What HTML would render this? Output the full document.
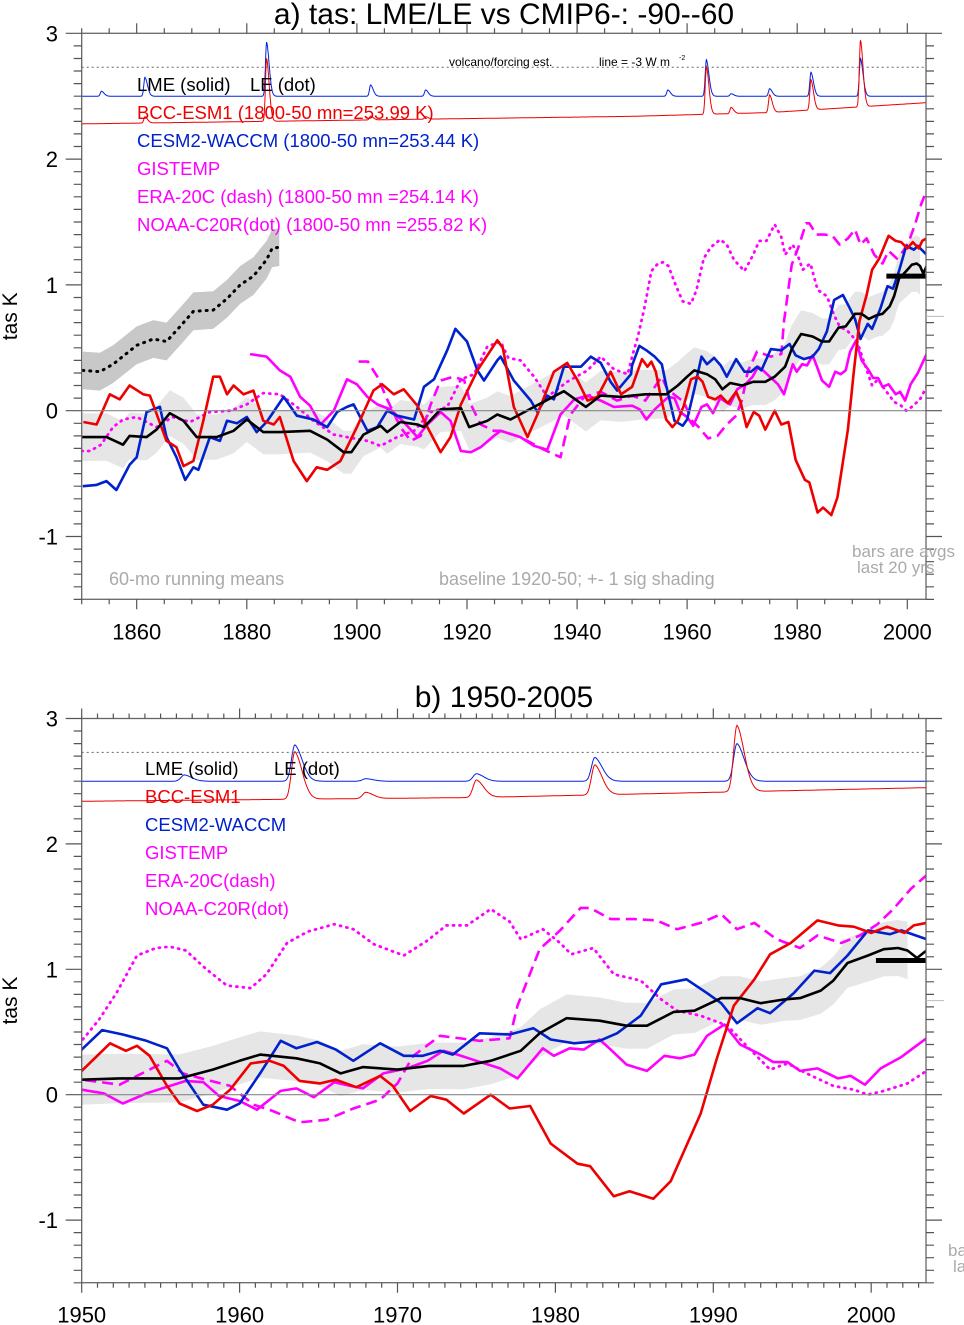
<!DOCTYPE html>
<html><head><meta charset="utf-8">
<style>
html,body{margin:0;padding:0;background:#fff;}
svg{display:block;font-family:"Liberation Sans",Arial,sans-serif;}
text{white-space:pre;}
</style></head>
<body>
<svg id="chart" width="964" height="1325" viewBox="0 0 964 1325" xmlns="http://www.w3.org/2000/svg">
<defs>
<clipPath id="clipA"><rect x="81.7" y="33.3" width="844.3" height="566"/></clipPath>
<clipPath id="clipB"><rect x="81.7" y="718.5" width="844.3" height="564.2"/></clipPath>
</defs>
<text x="504" y="24" font-size="30" text-anchor="middle">a) tas: LME/LE vs CMIP6-: -90--60</text>
<text x="504" y="707" font-size="30" text-anchor="middle">b) 1950-2005</text>
<g id="panelA"></g>
<g id="panelB"></g>
</svg>
<script>
// ---- data (year, value K) ----
const lmeMean = [[1850,-0.21],[1854.5,-0.21],[1857.5,-0.27],[1858.7,-0.2],[1861.8,-0.21],[1863.6,-0.15],[1866,-0.02],[1868.5,-0.08],[1870.9,-0.21],[1874.5,-0.21],[1877.6,-0.16],[1880,-0.07],[1883,-0.17],[1886,-0.17],[1891.5,-0.16],[1894.6,-0.23],[1897.6,-0.33],[1899,-0.33],[1901.2,-0.19],[1904.3,-0.12],[1905.5,-0.17],[1907.9,-0.09],[1911,-0.11],[1912.2,-0.13],[1915.2,0.01],[1918.9,0.02],[1920.4,-0.13],[1923.7,-0.08],[1925.5,-0.03],[1927.9,-0.07],[1932.2,0.03],[1937.6,0.155],[1941.6,0.03],[1944.3,0.12],[1948,0.11],[1950,0.12],[1952.4,0.13],[1956.2,0.13],[1958.3,0.2],[1960,0.27],[1961.3,0.32],[1963.6,0.29],[1965.1,0.25],[1966.4,0.17],[1967.8,0.22],[1970,0.2],[1972,0.23],[1974.2,0.23],[1975.9,0.27],[1977.8,0.35],[1979,0.49],[1980.7,0.61],[1982.8,0.59],[1984.5,0.55],[1985.8,0.55],[1987.5,0.66],[1988.8,0.67],[1990.5,0.77],[1991.7,0.77],[1993,0.73],[1994.5,0.76],[1995.5,0.77],[1996.8,0.83],[1997.6,0.91],[1998.5,1.05],[1999.8,1.11],[2000.8,1.16],[2001.7,1.17],[2002.3,1.15],[2002.9,1.09],[2003.5,1.15]];
const lmeSpread = [[1850,0.19],[1900,0.17],[1950,0.2],[1965,0.18],[1980,0.19],[1995,0.17],[2002.5,0.23]];
const leMean = [[1850.2,0.32],[1853.3,0.31],[1855.7,0.37],[1860,0.52],[1863,0.57],[1865.4,0.55],[1867.9,0.67],[1870.3,0.79],[1873.9,0.8],[1876.4,0.89],[1878.8,1.0],[1881.2,1.07],[1883.6,1.2],[1884.6,1.29],[1885.9,1.3]];
const leSpread = [[1850,0.15],[1886,0.15]];
const bccSeries = [[1850.3,-0.09],[1852.7,-0.11],[1855.1,0.13],[1856.9,0.09],[1858.7,0.2],[1861.2,0.13],[1862.4,0.12],[1865.4,-0.24],[1867.2,-0.29],[1868.5,-0.44],[1870.3,-0.4],[1872.1,-0.08],[1873.9,0.27],[1875.1,0.27],[1876.4,0.13],[1877.6,0.2],[1879.4,0.13],[1881.2,0.16],[1883,-0.08],[1884.9,-0.11],[1886,-0.05],[1888.5,-0.4],[1890.9,-0.56],[1892.7,-0.45],[1894.6,-0.47],[1897,-0.4],[1900,-0.13],[1903,0.16],[1904.6,0.21],[1906.7,0.13],[1908.5,0.17],[1911,0.04],[1912.8,-0.13],[1915.2,-0.33],[1917,-0.21],[1918.9,0.05],[1921.9,0.32],[1925.5,0.56],[1926.5,0.5],[1928.5,0.03],[1931,-0.21],[1932.8,-0.03],[1935.8,0.31],[1938.2,0.38],[1940.1,0.24],[1941.9,0.08],[1943.7,0.11],[1946.1,0.31],[1948,0.13],[1950,0.19],[1951.8,0.41],[1952.8,0.35],[1953.5,0.39],[1954.3,0.31],[1955.4,0.07],[1956.2,-0.07],[1957.3,-0.13],[1958.3,-0.08],[1959.4,0.04],[1960.7,0.25],[1961.9,0.27],[1962.8,0.23],[1963.8,0.11],[1965.1,0.09],[1966.1,0.12],[1967.4,0.06],[1968.9,0.15],[1969.7,0.07],[1970.8,-0.13],[1972.1,-0.01],[1973.1,-0.04],[1974.2,-0.15],[1975.9,0],[1977.1,-0.11],[1978.4,-0.09],[1979.7,-0.39],[1981.4,-0.55],[1982.2,-0.57],[1983.7,-0.81],[1984.7,-0.77],[1986.2,-0.83],[1987.3,-0.69],[1989.2,-0.15],[1990.2,0.28],[1991.3,0.71],[1992.6,0.92],[1993.6,1.12],[1994.9,1.21],[1996.6,1.39],[1997.9,1.35],[1998.9,1.34],[2000,1.29],[2001,1.34],[2002.1,1.29],[2002.7,1.35],[2003.5,1.37]];
const cesmSeries = [[1850.2,-0.6],[1852.7,-0.59],[1854.5,-0.56],[1856.3,-0.63],[1858.7,-0.43],[1860,-0.37],[1861.8,-0.01],[1864.2,0.03],[1865.4,-0.21],[1867.2,-0.37],[1868.8,-0.55],[1870.3,-0.45],[1871.2,-0.47],[1873.3,-0.21],[1875.1,-0.24],[1876.4,-0.08],[1878.2,-0.1],[1880,-0.05],[1881.8,-0.17],[1883.6,-0.09],[1886.7,0.11],[1889.1,-0.04],[1892.1,-0.07],[1894.6,-0.13],[1896.4,-0.01],[1898.2,0.03],[1899.4,0.05],[1901.9,-0.16],[1903.7,-0.13],[1905.5,0],[1907.3,-0.04],[1910.4,-0.07],[1912.2,0.19],[1914,0.25],[1916.4,0.48],[1917.9,0.65],[1920,0.55],[1921.9,0.32],[1923.1,0.24],[1925.5,0.4],[1926.1,0.43],[1928.5,0.24],[1931.6,0.08],[1932.8,-0.01],[1934.6,0.12],[1935.8,0.09],[1937.6,0.35],[1940.7,0.35],[1942.5,0.43],[1944.3,0.38],[1946.1,0.23],[1947.3,0.16],[1949.8,0.29],[1950,0.36],[1951.3,0.515],[1952.6,0.48],[1954.1,0.43],[1955.4,0.37],[1956.2,0.2],[1957.7,-0.08],[1959.2,-0.12],[1960,-0.07],[1961.3,0.17],[1962.6,0.43],[1963.6,0.37],[1964.9,0.42],[1966.1,0.36],[1967.2,0.27],[1968.9,0.41],[1970.4,0.31],[1971.6,0.31],[1972.7,0.35],[1973.5,0.32],[1975.2,0.49],[1977.1,0.48],[1978.6,0.53],[1979.7,0.44],[1981.2,0.41],[1982.8,0.43],[1983.9,0.49],[1985.4,0.63],[1986.7,0.88],[1988.3,0.92],[1989.6,0.81],[1990.5,0.73],[1991.5,0.57],[1992.8,0.69],[1993.6,0.65],[1995.1,0.81],[1996.4,0.99],[1997.4,0.97],[1998.5,1.11],[1999.8,1.31],[2001.2,1.28],[2001.9,1.31],[2003.5,1.24]];
const gistempSeries = [[1880.6,0.45],[1883.6,0.43],[1886,0.32],[1887.9,0.27],[1889.7,0.11],[1891.5,0.04],[1893.4,-0.11],[1895.8,0],[1898.2,0.25],[1900,0.21],[1901.9,0.11],[1903.7,0.05],[1906.1,0.01],[1908.5,-0.09],[1911,-0.21],[1912.8,-0.11],[1915.2,-0.01],[1917,-0.08],[1918.9,-0.32],[1920.7,-0.33],[1922.5,-0.29],[1924.9,-0.2],[1926.1,-0.16],[1929.7,-0.21],[1932.2,-0.28],[1934.6,-0.31],[1937,-0.03],[1939.5,0.09],[1941.9,0.12],[1944.3,0.08],[1946.7,0.03],[1950,0.04],[1951.4,0.01],[1952.6,-0.07],[1954.1,0.01],[1955.6,0.07],[1956.6,0.11],[1957.7,0.1],[1958.7,-0.01],[1960,-0.05],[1961.1,-0.12],[1962.6,0.03],[1963.6,0.05],[1964.7,-0.02],[1966,0.1],[1967,0.07],[1967.8,0.05],[1969.1,0.17],[1970.6,0.21],[1971.9,0.27],[1972.9,0.35],[1973.8,0.32],[1975,0.27],[1976.5,0.21],[1977.6,0.13],[1979.2,0.37],[1979.9,0.31],[1980.9,0.37],[1981.8,0.36],[1982.8,0.44],[1983.5,0.36],[1984.5,0.24],[1985.8,0.19],[1986.9,0.31],[1987.9,0.29],[1988.8,0.32],[1989.6,0.47],[1990.7,0.56],[1991.7,0.4],[1993,0.32],[1993.8,0.26],[1994.7,0.26],[1995.5,0.19],[1996.6,0.21],[1997.9,0.13],[1998.7,0.15],[1999.6,0.08],[2000.6,0.21],[2001.9,0.3],[2003.5,0.45]];
const era20cSeries = [[1900.3,0.39],[1902,0.39],[1903.7,0.27],[1905.5,0.09],[1907.9,-0.13],[1909.8,-0.24],[1911.6,-0.2],[1913.4,0.05],[1915.2,0.24],[1917.6,0.27],[1919.5,0.24],[1920.7,0.05],[1922.5,-0.11],[1924.9,-0.16],[1926.1,-0.16],[1929.7,-0.21],[1934,-0.31],[1937,-0.37],[1938.8,-0.03],[1941.3,0.11],[1944.3,0.15],[1947.3,0.08],[1950,0.12],[1952.4,0.08],[1955.4,0.27],[1956.4,0.17],[1957.9,0.12],[1959.4,0.07],[1960.9,-0.08],[1962.1,-0.13],[1963.8,-0.22],[1965.5,-0.2],[1967.2,-0.11],[1968.9,-0.04],[1970,0.09],[1971,0.31],[1972.7,0.47],[1975.2,0.43],[1977.1,0.45],[1977.6,0.71],[1979,1.16],[1980.3,1.31],[1981.6,1.49],[1982.2,1.49],[1983.5,1.4],[1985,1.4],[1986.4,1.39],[1987.7,1.32],[1989.2,1.37],[1990.5,1.44],[1991.5,1.32],[1992.6,1.37],[1994,1.24],[1995.5,1.17],[1996.6,1.27],[1998.1,1.21],[1999.3,1.27],[2000.4,1.36],[2001.4,1.48],[2002.5,1.64],[2003.5,1.75]];
const noaaSeries = [[1850,-0.32],[1851.5,-0.32],[1853.5,-0.27],[1855.7,-0.13],[1857.5,-0.07],[1860,-0.05],[1863.6,-0.13],[1866.5,-0.05],[1869.7,-0.09],[1873.3,-0.01],[1877,0],[1880,0.05],[1883,0.14],[1886,0.13],[1889.1,0.03],[1892.1,-0.08],[1895.8,-0.19],[1898.2,-0.21],[1901.9,-0.24],[1904.3,-0.28],[1907.3,-0.21],[1910.4,-0.16],[1913.4,-0.01],[1916.4,0.03],[1918.9,0.25],[1921.3,0.29],[1923.7,0.51],[1926.1,0.55],[1927.5,0.42],[1929.7,0.4],[1932.2,0.27],[1934.6,0.11],[1938.2,0.23],[1941.9,0.32],[1944.3,0.43],[1946.7,0.33],[1949.2,0.29],[1950,0.43],[1951.1,0.6],[1952.2,0.81],[1953.5,1.11],[1954.7,1.17],[1955.6,1.18],[1956.6,1.15],[1957.9,1.0],[1959.2,0.87],[1960.7,0.85],[1961.7,0.96],[1963,1.21],[1964.3,1.3],[1966,1.36],[1967.2,1.32],[1968.5,1.2],[1970.4,1.11],[1971.9,1.23],[1973.1,1.35],[1974.4,1.35],[1975.9,1.48],[1977.1,1.38],[1977.8,1.24],[1979.2,1.32],[1980.3,1.21],[1981,1.12],[1982.4,1.17],[1983.7,0.96],[1985.4,0.91],[1986.7,0.76],[1987.7,0.67],[1989.2,0.63],[1990.9,0.55],[1992.1,0.39],[1993.6,0.2],[1994.7,0.25],[1995.9,0.17],[1997.6,0.07],[1998.9,0.04],[1999.8,0],[2000.8,0.03],[2002.3,0.09],[2003.5,0.19]];
// volcanic forcing estimate traces
const volcanoYears = [1853.6, 1861.5, 1883.6, 1902.5, 1912.5, 1956.5, 1963.5, 1968, 1975, 1982.5, 1991.5];
const blueVolcPeaks = [0.04, 0.15, 0.43, 0.09, 0.05, 0.05, 0.29, 0.02, 0.06, 0.19, 0.3];
const redVolcPeaks  = [0.0, 0.05, 0.5, 0.03, 0.02, 0.0, 0.38, 0.05, 0.14, 0.24, 0.53];
const blueVolcBase = [[1850,2.5],[2004,2.5]];
const redVolcBase = [[1850,2.28],[1950,2.34],[1975,2.37],[2004,2.45]];
const last20Bar = [1984, 2003.5, 1.07];
const volcRefLine = 2.73;
const yTicks = [3,2,1,0,-1];
const yTickLabels = ["3","2","1","0","-1"];
const xTicksA = [1860,1880,1900,1920,1940,1960,1980,2000];
const xTicksB = [1950,1960,1970,1980,1990,2000];

const NS = "http://www.w3.org/2000/svg";
function mk(tag, attrs, parent){ const e=document.createElementNS(NS,tag); for(const k in attrs) e.setAttribute(k,attrs[k]); parent.appendChild(e); return e; }
function interp(arr, x){ if(x<=arr[0][0]) return arr[0][1]; for(let i=1;i<arr.length;i++){ if(x<=arr[i][0]){ const a=arr[i-1],b=arr[i]; return a[1]+(b[1]-a[1])*(x-a[0])/(b[0]-a[0]); } } return arr[arr.length-1][1]; }
function volcResp(dt){ if(dt<0) return Math.exp(-(dt/0.3)*(dt/0.3)); const d=dt/0.55; return Math.exp(-d*d*0.6 - dt*0.25); }

function drawPanel(g, P){
  const X = yr => P.x0 + (yr - P.y0yr) * P.sx;
  const Y = v => P.zeroY - v * P.sy;
  const clip = mk('g', {'clip-path':'url(#'+P.clip+')'}, g);
  const bandPts=[], bandLo=[];
  lmeMean.filter(p=>p[0]<=2002.5).forEach(p=>{ const s=interp(lmeSpread,p[0]); bandPts.push(X(p[0]).toFixed(1)+','+Y(p[1]+s).toFixed(1)); bandLo.unshift(X(p[0]).toFixed(1)+','+Y(p[1]-s).toFixed(1)); });
  const band = mk('polygon',{points:bandPts.concat(bandLo).join(' '),fill:'#e6e6e6',stroke:'none'},clip);
  
  
  if(P.showLE){
    const up=[],lo=[];
    leMean.forEach(p=>{ const s=interp(leSpread,p[0]); up.push(X(p[0]).toFixed(1)+','+Y(p[1]+s).toFixed(1)); lo.unshift(X(p[0]).toFixed(1)+','+Y(p[1]-s).toFixed(1)); });
    const leb = mk('polygon',{points:up.concat(lo).join(' '),fill:'#c8c8c8',stroke:'none'},clip);
    
    
  }
  const zl = mk('line',{x1:P.x0,x2:P.x1,y1:Y(0),y2:Y(0),stroke:'#888','stroke-width':1.2},g);
  
  
  const rl = mk('line',{x1:P.x0,x2:P.x1,y1:Y(volcRefLine),y2:Y(volcRefLine),stroke:'#666','stroke-width':1,'stroke-dasharray':'2,3'},g);
  
  
  [['blue',blueVolcPeaks,blueVolcBase,'#0022dd'],['red',redVolcPeaks,redVolcBase,'#ee0000']].forEach(([nm,peaks,base,col])=>{
    const pts=[];
    for(let t=P.y0yr;t<=P.y1yr+0.01;t+=0.05){ let v=interp(base,t); volcanoYears.forEach((vy,i)=>{ v+=peaks[i]*volcResp(t-vy); }); pts.push(X(t).toFixed(1)+','+Y(v).toFixed(1)); }
    const pl = mk('polyline',{points:pts.join(' '),fill:'none',stroke:col,'stroke-width':1},clip);
    
    
  });
  const series = [
    ['noaa-c20r-line',noaaSeries,'#ff00ff','1,5.5',2.8,'round'],
    ['era-20c-line',era20cSeries,'#ff00ff','11,6',2.6,'butt'],
    ['gistemp-line',gistempSeries,'#ff00ff','',2.6,'butt'],
    ['cesm2-waccm-line',cesmSeries,'#0022cc','',2.6,'butt'],
    ['bcc-esm1-line',bccSeries,'#ee0000','',2.6,'butt'],
    ['lme-mean-line',lmeMean,'#000000','',2.6,'butt']
  ];
  if(P.showLE) series.push(['le-mean-line',leMean,'#000000','1,6',3,'round']);
  series.forEach(([nm,arr,col,dash,w,cap])=>{
    const pts = arr.map(p=>X(p[0]).toFixed(1)+','+Y(p[1]).toFixed(1)).join(' ');
    const a={points:pts,fill:'none',stroke:col,'stroke-width':w,'stroke-linejoin':'round','stroke-linecap':cap};
    if(dash) a['stroke-dasharray']=dash;
    const pl = mk('polyline',a,clip);
    
    
  });
  const bar = mk('line',{x1:(P.sx>10 ? X(2000.3) : X(1996.2)),x2:X(last20Bar[1]),y1:Y(last20Bar[2]),y2:Y(last20Bar[2]),stroke:'#000','stroke-width':5},g);
  
  
  const fr = mk('rect',{x:P.x0,y:P.top,width:P.x1-P.x0,height:P.bot-P.top,fill:'none',stroke:'#666','stroke-width':1.3},g);
  
  
  const tk=[];
  for(let v=-1.5; v<=3.001; v+=0.1){ const y=Y(v); const maj=Math.abs(v-Math.round(v))<0.01; const L=maj?16:8; tk.push(`M${P.x0} ${y.toFixed(1)}h${-L}M${P.x1} ${y.toFixed(1)}h${L}`); }
  for(let t=P.y0yr; t<=P.y1yr+0.01; t+=P.minorX){ const x=X(t); const maj=P.majors.includes(Math.round(t)); const L=maj?10:5; tk.push(`M${x.toFixed(1)} ${P.bot}v${L}M${x.toFixed(1)} ${P.top}v${-L}`); }
  const tp = mk('path',{d:tk.join(''),stroke:'#555','stroke-width':1.2,fill:'none'},g);
  
  
  yTicks.forEach((v,i)=>{ const t=mk('text',{x:58,y:Y(v)+8,'font-size':22,'text-anchor':'end'},g); t.textContent=yTickLabels[i];
    
     });
  P.majors.forEach(yr=>{ const t=mk('text',{x:X(yr),y:P.bot+40,'font-size':22,'text-anchor':'middle'},g); t.textContent=String(yr);
    
     });
  const yt = mk('text',{x:17,y:(P.top+P.bot)/2,'font-size':21,'text-anchor':'middle',transform:`rotate(-90 17 ${(P.top+P.bot)/2})`},g);
  yt.textContent='tas K';
  
  
  P.legend.forEach(([txt,col,x],i)=>{ const t=mk('text',{x:x,y:P.legY+(P.legRow[i]||0)*28,'font-size':18.5,fill:col},g); t.textContent=txt;
    
     });
  P.notes.forEach(([txt,x,y,sz,col])=>{ const t=mk('text',{x:x,y:y,'font-size':sz,fill:col},g); t.textContent=txt;
    
     });
  const rt = mk('line',{x1:P.x1,x2:P.x1+18,y1:Y(0.75),y2:Y(0.75),stroke:'#bbb','stroke-width':1},g);
  
  
}

drawPanel(document.getElementById('panelA'),{
  clip:'clipA', x0:81.7, x1:926, top:33.3, bot:599.3, zeroY:410.7, sy:125.8, sx:5.504, y0yr:1850, y1yr:2003.4,
  minorX:5, majors:xTicksA, showLE:true, legY:91, legRow:[0,0,1,2,3,4,5],
  legend:[["LME (solid)","#000",137],["LE (dot)","#000",250],["BCC-ESM1 (1800-50 mn=253.99 K)","#ee0000",137],["CESM2-WACCM (1800-50 mn=253.44 K)","#0022cc",137],["GISTEMP","#ff00ff",137],["ERA-20C (dash) (1800-50 mn =254.14 K)","#ff00ff",137],["NOAA-C20R(dot) (1800-50 mn =255.82 K)","#ff00ff",137]],
  notes:[["volcano/forcing est.",449,66,12,"#000"],["line = -3 W m",599,66,12,"#000"],["-2",679,60,7,"#000"],["60-mo running means",109,585,18,"#aaa"],["baseline 1920-50; +- 1 sig shading",439,585,18,"#aaa"],["bars are avgs",852,557,17,"#aaa"],["last 20 yrs",857,573,17,"#aaa"]]
});
drawPanel(document.getElementById('panelB'),{
  clip:'clipB', x0:81.7, x1:926, top:718.5, bot:1282.7, zeroY:1094.7, sy:125.4, sx:15.79, y0yr:1950, y1yr:2003.5,
  minorX:1, majors:xTicksB, showLE:false, legY:775, legRow:[0,0,1,2,3,4,5],
  legend:[["LME (solid)","#000",145],["LE (dot)","#000",274],["BCC-ESM1","#ee0000",145],["CESM2-WACCM","#0022cc",145],["GISTEMP","#ff00ff",145],["ERA-20C(dash)","#ff00ff",145],["NOAA-C20R(dot)","#ff00ff",145]],
  notes:[["ba",948,1256,17,"#aaa"],["la",953,1272,17,"#aaa"]]
});
</script>
</body></html>
